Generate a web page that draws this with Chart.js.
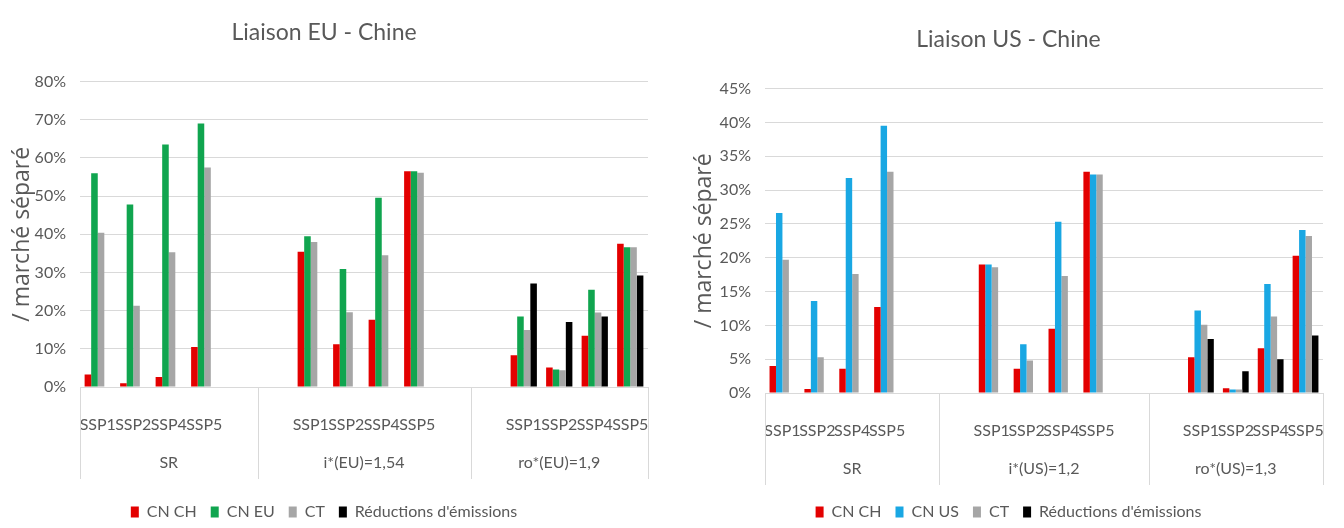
<!DOCTYPE html>
<html>
<head>
<meta charset="utf-8">
<script src="https://cdn.jsdelivr.net/npm/chart.js@4.4.1/dist/chart.umd.min.js"></script>
<style>
    body { margin: 0; background: #ffffff; width: 1344px; height: 528px; position: relative; overflow: hidden; }
    .chart-box { position: absolute; top: 0; width: 672px; height: 528px; }
</style>
</head>
<body>
<div class="chart-box" style="left:0"><canvas id="euChart"></canvas></div>
<div class="chart-box" style="left:672px"><canvas id="usChart"></canvas></div>
<script>
// 16 slots on the axis: 4 scenarios per block, blank slots space the blocks out
const categories = ['SSP1', 'SSP2', 'SSP4', 'SSP5', '', '', 'SSP1', 'SSP2', 'SSP4', 'SSP5', '', '', 'SSP1', 'SSP2', 'SSP4', 'SSP5'];
const groupSpans = [[0, 4], [5, 10], [11, 15]];

const euGroups = ['SR', 'i*(EU)=1,54', 'ro*(EU)=1,9'];
const usGroups = ['SR', 'i*(US)=1,2', 'ro*(US)=1,3'];

// Liaison EU - Chine (% / marché séparé)
const euCnCh = [3.3, 1.0, 2.6, 10.5, null, null, 35.4, 11.2, 17.6, 56.5, null, null, 8.3, 5.1, 13.4, 37.5];
const euCnEu = [56.0, 47.8, 63.5, 69.0, null, null, 39.5, 30.9, 49.6, 56.5, null, null, 18.5, 4.6, 25.5, 36.6];
const euCt = [40.4, 21.3, 35.3, 57.5, null, null, 38.0, 19.6, 34.5, 56.1, null, null, 14.9, 4.4, 19.5, 36.6];
const euReductions = [null, null, null, null, null, null, null, null, null, null, null, null, 27.1, 17.0, 18.5, 29.2];

// Liaison US - Chine (% / marché séparé)
const usCnCh = [4.0, 0.6, 3.6, 12.7, null, null, 19.0, 3.6, 9.5, 32.7, null, null, 5.3, 0.7, 6.6, 20.3];
const usCnUs = [26.6, 13.6, 31.8, 39.5, null, null, 19.0, 7.2, 25.3, 32.3, null, null, 12.2, 0.5, 16.1, 24.1];
const usCt = [19.7, 5.3, 17.6, 32.7, null, null, 18.6, 4.8, 17.3, 32.3, null, null, 10.1, 0.5, 11.3, 23.2];
const usReductions = [null, null, null, null, null, null, null, null, null, null, null, null, 8.0, 3.2, 5.0, 8.5];

const FONT = 'Lato, "Open Sans", sans-serif';
const TEXT_COLOR = '#595959';
const GRID_COLOR = '#d9d9d9';

// draws the second level of the category axis: block labels and separators
const groupAxisPlugin = {
    id: 'groupAxis',
    afterDraw(chart, args, opts) {
        const xScale = chart.scales.x;
        const ctx = chart.ctx;
        const step = xScale.getPixelForValue(1) - xScale.getPixelForValue(0);
        const bottom = chart.chartArea.bottom;

        ctx.save();
        ctx.strokeStyle = GRID_COLOR;
        ctx.lineWidth = 1;
        ctx.fillStyle = TEXT_COLOR;
        ctx.font = '16px ' + FONT;
        ctx.textAlign = 'center';
        ctx.textBaseline = 'middle';

        opts.spans.forEach((span, i) => {
            const left = xScale.getPixelForValue(span[0]) - step / 2;
            const right = xScale.getPixelForValue(span[1]) + step / 2;
            const edges = i === opts.spans.length - 1 ? [left, right] : [left];
            edges.forEach(px => {
                const lx = Math.round(px) + 0.5;
                ctx.beginPath();
                ctx.moveTo(lx, bottom);
                ctx.lineTo(lx, bottom + opts.lineLength);
                ctx.stroke();
            });
            ctx.fillText(opts.labels[i], (left + right) / 2, bottom + opts.labelOffset);
        });
        ctx.restore();
    }
};

function createBarChart(canvasId, setup) {
    const ctx = document.getElementById(canvasId).getContext('2d');

    return new Chart(ctx, {
        type: 'bar',
        data: {
            labels: categories,
            datasets: setup.series.map(s => ({
                label: s.label,
                data: s.data,
                backgroundColor: s.color,
                borderWidth: 0,
                categoryPercentage: 0.74,
                barPercentage: 1.0
            }))
        },
        options: {
            responsive: true,
            maintainAspectRatio: false,
            animation: false,
            layout: {
                padding: { left: setup.padLeft, right: setup.padRight, top: 0, bottom: 0 }
            },
            plugins: {
                title: {
                    display: true,
                    text: setup.title,
                    color: TEXT_COLOR,
                    font: { family: FONT, size: 23, weight: 'normal' },
                    padding: { top: setup.titleTop, bottom: setup.titleBottom }
                },
                legend: {
                    position: 'bottom',
                    maxHeight: 38,
                    labels: {
                        color: TEXT_COLOR,
                        boxWidth: 8,
                        boxHeight: 11,
                        padding: 14,
                        font: { family: FONT, size: 16 }
                    }
                },
                tooltip: { enabled: false },
                groupAxis: {
                    labels: setup.groups,
                    spans: groupSpans,
                    labelOffset: 76,
                    lineLength: 92
                }
            },
            scales: {
                x: {
                    grid: { display: false },
                    border: { display: false },
                    ticks: {
                        color: TEXT_COLOR,
                        autoSkip: false,
                        maxRotation: 0,
                        padding: 20,
                        font: { family: FONT, size: 16 }
                    },
                    afterFit(scale) {
                        scale.height = setup.xHeight;
                    }
                },
                y: {
                    min: 0,
                    max: setup.yMax,
                    grid: { color: GRID_COLOR, drawTicks: false },
                    border: { display: false },
                    ticks: {
                        stepSize: setup.yStep,
                        padding: 14,
                        color: TEXT_COLOR,
                        font: { family: FONT, size: 16 },
                        callback: function(value) {
                            return value + '%';
                        }
                    },
                    title: {
                        display: true,
                        text: '/ marché séparé',
                        color: TEXT_COLOR,
                        font: { family: '"Open Sans", Lato, sans-serif', size: 23 },
                        padding: { top: setup.yTitlePad, bottom: 0 }
                    },
                    afterFit(scale) {
                        scale.width = setup.yWidth;
                    }
                }
            }
        },
        plugins: [groupAxisPlugin]
    });
}

createBarChart('euChart', {
    title: 'Liaison EU - Chine',
    groups: euGroups,
    yMax: 80,
    yStep: 10,
    yWidth: 80,
    yTitlePad: 9,
    padLeft: 0,
    padRight: 24,
    titleTop: 19,
    titleBottom: 35,
    xHeight: 103,
    series: [
        { label: 'CN CH', data: euCnCh, color: '#e30000' },
        { label: 'CN EU', data: euCnEu, color: '#10a54f' },
        { label: 'CT', data: euCt, color: '#a6a6a6' },
        { label: "Réductions d'émissions", data: euReductions, color: '#000000' }
    ]
});

createBarChart('usChart', {
    title: 'Liaison US - Chine',
    groups: usGroups,
    yMax: 45,
    yStep: 5,
    yWidth: 81,
    yTitlePad: 7,
    padLeft: 12,
    padRight: 11,
    titleTop: 26,
    titleBottom: 35,
    xHeight: 97,
    series: [
        { label: 'CN CH', data: usCnCh, color: '#e30000' },
        { label: 'CN US', data: usCnUs, color: '#19a7e3' },
        { label: 'CT', data: usCt, color: '#a6a6a6' },
        { label: "Réductions d'émissions", data: usReductions, color: '#000000' }
    ]
});
</script>
</body>
</html>
